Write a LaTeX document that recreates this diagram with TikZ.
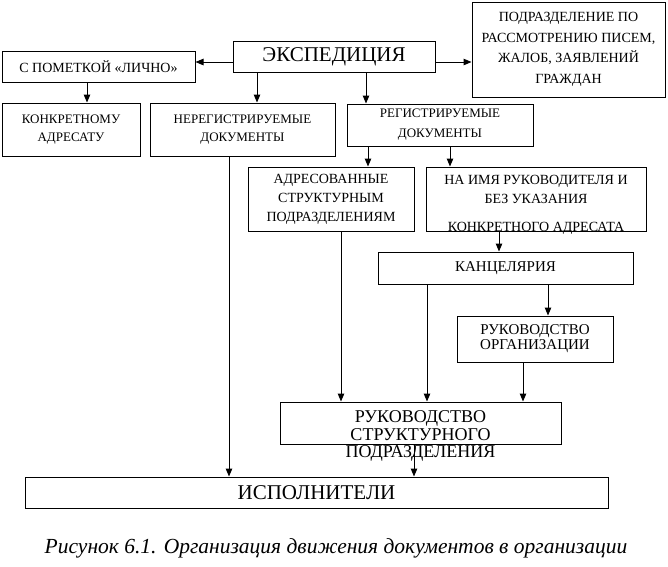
\documentclass[tikz,border=0pt]{standalone}
\usepackage{fontspec}
\setmainfont{Liberation Serif}
\usetikzlibrary{arrows.meta}
\begin{document}
\begin{tikzpicture}
        [x=1pt, y=-1pt,
        box/.style={draw, line width=1pt, inner sep=0pt, align=center},
        small/.style={font=\fontsize{13}{18}\selectfont},
        middle/.style={font=\fontsize{14}{19}\selectfont},
        big/.style={font=\fontsize{21}{24}\selectfont},
        arr/.style={line width=1pt, -{Triangle[length=8pt,width=6.5pt]}}]

        \useasboundingbox (0,0) rectangle (668,566);

        % top row
        \node[box, big, minimum width=202, minimum height=31] (exped) at (334,56.5) {ЭКСПЕДИЦИЯ};
        \node[box, middle, minimum width=193, minimum height=31] (lichno) at (98.5,66.5) {С ПОМЕТКОЙ «ЛИЧНО»};
        \node[box, middle, font=\fontsize{14}{20.5}\selectfont, minimum width=193, minimum height=95] (podr) at (568.5,49.5)
            {ПОДРАЗДЕЛЕНИЕ ПО\\РАССМОТРЕНИЮ ПИСЕМ,\\ЖАЛОБ, ЗАЯВЛЕНИЙ\\ГРАЖДАН};

        % second row
        \node[box, small, minimum width=138, minimum height=53] (konkr) at (71,129.5) {КОНКРЕТНОМУ\\АДРЕСАТУ};
        \node[box, small, minimum width=185, minimum height=53] (nereg) at (242.5,129.5) {НЕРЕГИСТРИРУЕМЫЕ\\ДОКУМЕНТЫ};
        \node[box, small, font=\fontsize{13}{20}\selectfont, minimum width=186, minimum height=42] (reg) at (440,125) {РЕГИСТРИРУЕМЫЕ\\ДОКУМЕНТЫ};

        % third row
        \node[box, middle, minimum width=166, minimum height=64] (adres) at (331,199) {АДРЕСОВАННЫЕ\\СТРУКТУРНЫМ\\ПОДРАЗДЕЛЕНИЯМ};
        \node[box, minimum width=220, minimum height=64] (naimya) at (536,199) {};
        \node[middle, align=center, inner sep=0pt] (naimyatext) at (536,205)
            {НА ИМЯ РУКОВОДИТЕЛЯ И\\БЕЗ УКАЗАНИЯ\\[9pt]КОНКРЕТНОГО АДРЕСАТА};

        % lower part
        \node[box, font=\fontsize{15}{18}\selectfont, minimum width=255, minimum height=32] (kanc) at (505.5,268) {КАНЦЕЛЯРИЯ};
        \node[box, font=\fontsize{15}{15}\selectfont, minimum width=156, minimum height=46] (rukorg) at (535,339) {РУКОВОДСТВО\\ОРГАНИЗАЦИИ};
        \node[box, minimum width=281, minimum height=42] (rukstr) at (420.5,423) {};
        \node[font=\fontsize{18}{17.5}\selectfont, align=center, inner sep=0pt] (rukstrtext) at (420.5,436)
            {РУКОВОДСТВО\\СТРУКТУРНОГО\\ПОДРАЗДЕЛЕНИЯ};
        \node[box, big, minimum width=583, minimum height=31] (ispoln) at (316.5,492.5) {ИСПОЛНИТЕЛИ};

        % caption
        \node[font=\fontsize{21.5}{24}\selectfont\itshape] (caption) at (336,548)
            {Рисунок 6.1. Организация движения документов в организации};

        % arrows from the expedition
        \draw[arr] ([yshift=-5.5pt]exped.west) -- ([yshift=-5.5pt]exped.west -| lichno.east);
        \draw[arr] ([yshift=-5.5pt]exped.east) -- ([yshift=-5.5pt]exped.east -| podr.west);
        \draw[arr] ([xshift=-77pt]exped.south) -- ([xshift=-77pt]exped.south |- nereg.north);
        \draw[arr] ([xshift=32pt]exped.south) -- ([xshift=32pt]exped.south |- reg.north);
        \draw[arr] ([xshift=-11.5pt]lichno.south) -- ([xshift=-11.5pt]lichno.south |- konkr.north);

        % registered documents
        \draw[arr] ([xshift=-72pt]reg.south) -- ([xshift=-72pt]reg.south |- adres.north);
        \draw[arr] ([xshift=10pt]reg.south) -- ([xshift=10pt]reg.south |- naimya.north);
        \draw[arr] ([xshift=-37pt]naimya.south) -- ([xshift=-37pt]naimya.south |- kanc.north);
        \draw[arr] ([xshift=42.5pt]kanc.south) -- ([xshift=42.5pt]kanc.south |- rukorg.north);

        % to the head of the department
        \draw[arr] ([xshift=10pt]adres.south) -- ([xshift=10pt]adres.south |- rukstr.north);
        \draw[arr] ([xshift=-78.5pt]kanc.south) -- ([xshift=-78.5pt]kanc.south |- rukstr.north);
        \draw[arr] ([xshift=-12pt]rukorg.south) -- ([xshift=-12pt]rukorg.south |- rukstr.north);

        % to the executors
        \draw[arr] ([xshift=-13.5pt]nereg.south) -- ([xshift=-13.5pt]nereg.south |- ispoln.north);
        \draw[arr] ([xshift=-6.5pt]rukstr.south) -- ([xshift=-6.5pt]rukstr.south |- ispoln.north);

\end{tikzpicture}
\end{document}
